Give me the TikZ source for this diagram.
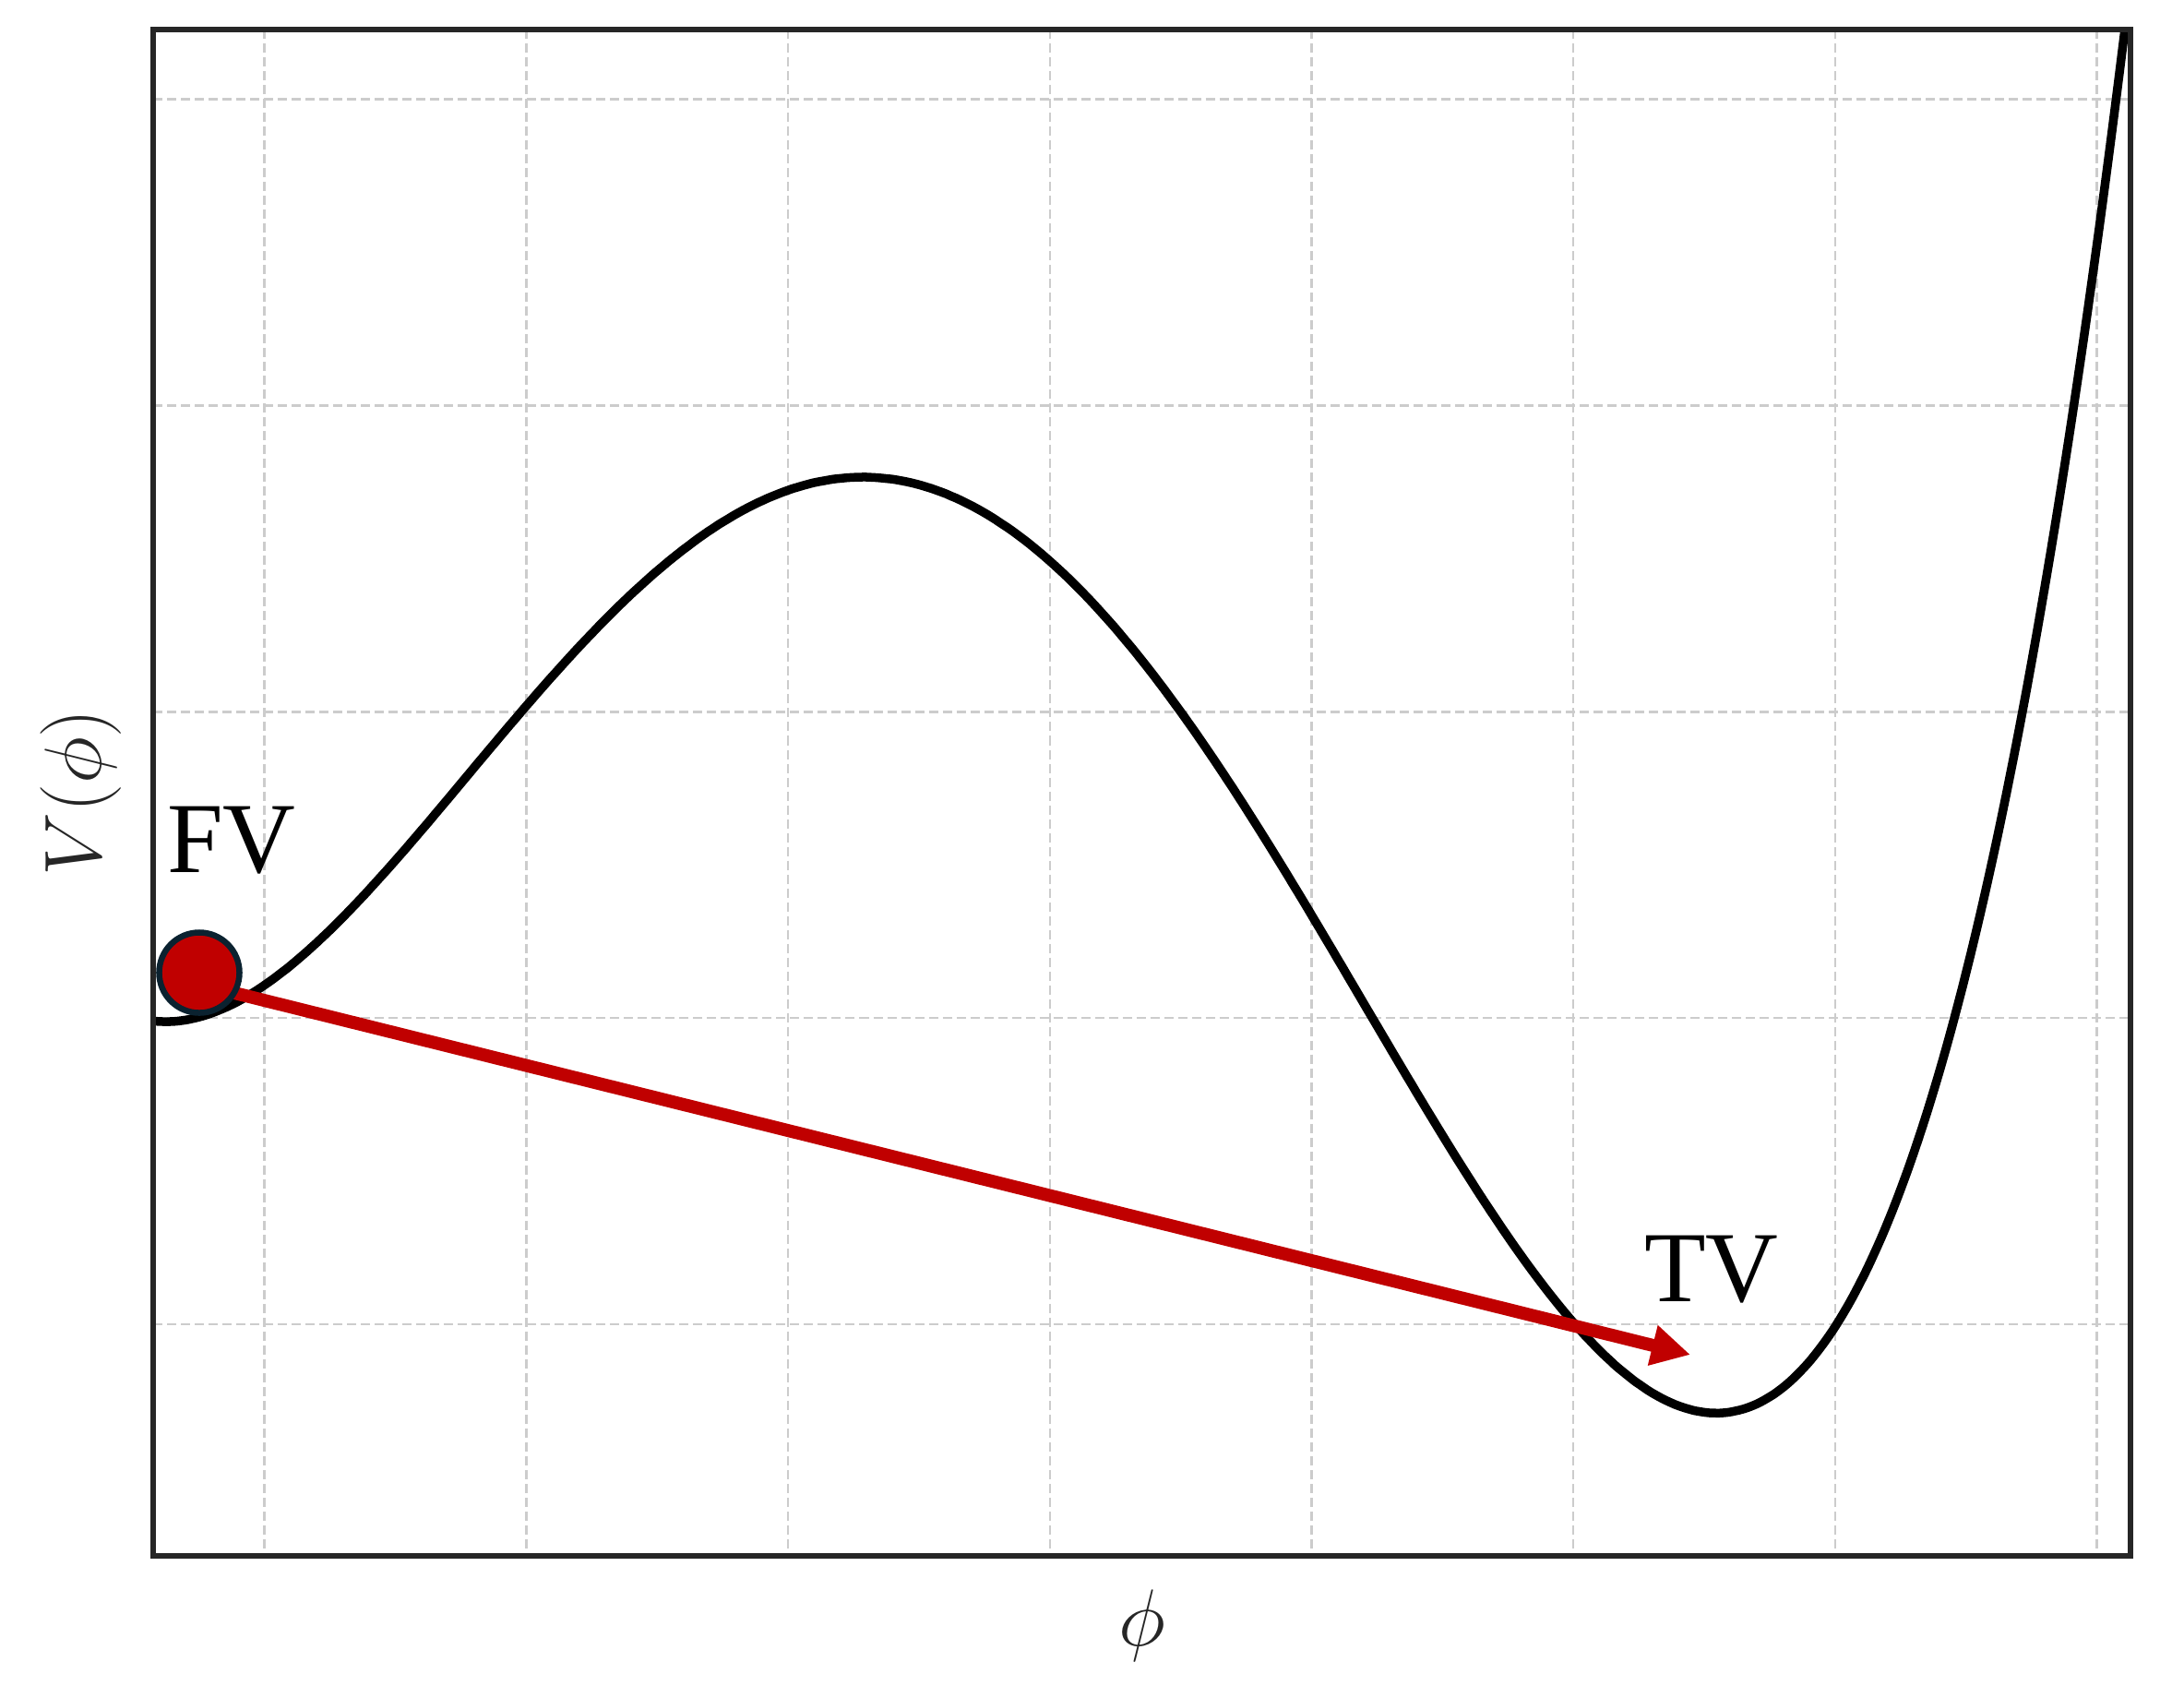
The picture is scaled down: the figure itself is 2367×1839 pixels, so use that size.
\documentclass[tikz,border=0pt]{standalone}
\usepackage{fontspec}
\setmainfont{Liberation Serif}
\usetikzlibrary{arrows.meta}
\definecolor{framecol}{HTML}{262626}
\definecolor{gridcol}{HTML}{CCCCCC}
\definecolor{ballred}{HTML}{C00000}
\definecolor{ballrim}{HTML}{0B2230}
\begin{document}
\begin{tikzpicture}[x=0.01cm,y=-0.01cm,
  gridline/.style={gridcol, line width=0.025cm, dash pattern=on 0.1cm off 0.05cm},
  framebox/.style={framecol, line width=0.06cm},
  potential/.style={black, line width=0.095cm},
  vaclabel/.style={font=\fontsize{31}{37}\selectfont, anchor=base, inner sep=0pt},
  axlabel/.style={text=framecol, font=\fontsize{27}{32}\selectfont, anchor=base, inner sep=0pt},
  ball/.style={circle, fill=ballred, draw=ballrim, line width=0.065cm, minimum size=0.87cm, inner sep=0pt},
  tunnel/.style={ballred, line width=0.14cm, -{Triangle[length=0.42cm,width=0.42cm]}}
]
\useasboundingbox (0,0) rectangle (2367,1839);
% grid
\foreach \i in {0,...,7}
  \draw[gridline] ({286.7+283.7*\i},32) -- ({286.7+283.7*\i},1686);
\foreach \j in {0,...,4}
  \draw[gridline] (166,{107.7+331.8*\j}) -- (2309,{107.7+331.8*\j});
% potential curve
\begin{scope}
  \clip (166,32) rectangle (2309,1686);
  \draw[potential, line join=round] plot[domain=166:2309, samples=400, smooth]
    (\x, {1107 - 6315*( ((\x-180)/1000)^4/4 - 2.435*((\x-180)/1000)^3/3 + 1.2684*((\x-180)/1000)^2/2 )});
\end{scope}
% frame
\draw[framebox] (166,32) rectangle (2309,1686);
% tunnelling arrow
\coordinate (start) at (230,1070);
\coordinate (tip) at (1832,1468);
\draw[tunnel] (start) -- (tip);
% ball at false vacuum
\node[ball] (fv) at (216,1054) {};
% labels
\node[vaclabel] (fvlab) at (251,945) {FV};
\node[vaclabel] (tvlab) at (1855,1410) {TV};
\node[axlabel] (xlab) at (1237.5,1783) {$\phi$};
\node[axlabel, rotate=90] (ylab) at (109,859) {$V(\phi)$};
\end{tikzpicture}
\end{document}
